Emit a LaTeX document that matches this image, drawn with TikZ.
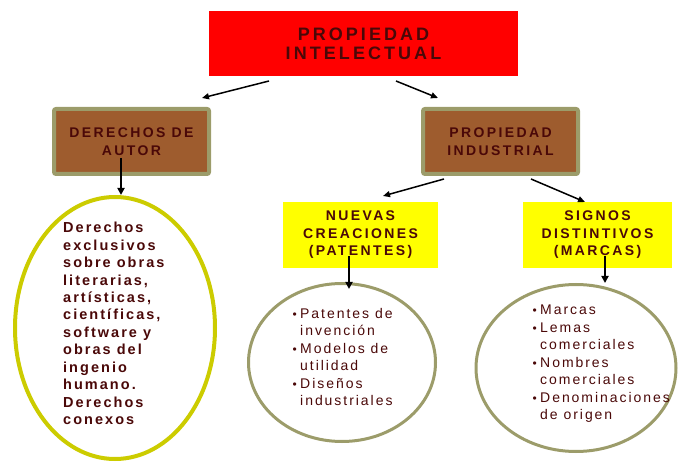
\documentclass[tikz,border=0pt]{standalone}
\usepackage{fontspec}
\setmainfont{Liberation Sans}
\newfontfamily\lsA[LetterSpace=17]{Liberation Sans}
\newfontfamily\lsB[LetterSpace=14]{Liberation Sans}
\usetikzlibrary{shapes.geometric,arrows.meta,calc}
\definecolor{txt}{HTML}{4A0808}
\definecolor{brownfill}{HTML}{9E5C2E}
\definecolor{olive}{HTML}{9C9C6A}
\definecolor{ellyel}{HTML}{CCCC00}
\definecolor{redbox}{HTML}{FF0000}
\definecolor{yel}{HTML}{FFFF00}
\tikzset{
  titlebox/.style={fill=redbox, minimum width=309, minimum height=65, inner sep=0,
    text=txt, font=\lsA\bfseries\fontsize{18}{19}\selectfont, align=center},
  brownbox/.style={fill=brownfill, draw=olive, line width=4, rounded corners=2,
    minimum width=155, minimum height=65, inner sep=0, text=txt,
    font=\lsA\bfseries\fontsize{14}{18}\selectfont, align=center},
  yelbox/.style={fill=yel, minimum height=66, inner sep=0, text=txt,
    font=\lsA\bfseries\fontsize{14}{17.5}\selectfont, align=center},
  oval/.style={ellipse, draw=olive, line width=3, inner sep=0},
  bigoval/.style={ellipse, draw=ellyel, line width=4, inner sep=0},
  bodytext/.style={anchor=north west, inner sep=0, text=txt, align=left,
    font=\lsB\fontsize{14}{17.5}\selectfont},
  boldtext/.style={anchor=north west, inner sep=0, text=txt, align=left,
    font=\lsB\bfseries\fontsize{14.5}{17.45}\selectfont},
  arr/.style={line width=1.5, -{Triangle[length=7pt,width=6pt]}},
  varr/.style={line width=2.5, -{Triangle[length=7pt,width=7pt]}},
}
\newcommand{\bul}{\llap{{\fontsize{12}{12}\selectfont\textbullet}\hspace{3.5pt}}}
\begin{document}
\begin{tikzpicture}[x=1pt,y=-1pt]
\useasboundingbox (0,0) rectangle (678,462);
% boxes
\node[titlebox] (pi) at (363.5,43.5) {PROPIEDAD\\INTELECTUAL};
\node[brownbox] (da) at (131.5,141.5) {DERECHOS DE\\AUTOR};
\node[brownbox] (pind) at (500.5,141.5) {PROPIEDAD\\INDUSTRIAL};
\node[yelbox, minimum width=155] (nc) at (360.5,235) {NUEVAS\\CREACIONES\\(PATENTES)};
\node[yelbox, minimum width=149] (sd) at (597.5,235) {SIGNOS\\DISTINTIVOS\\(MARCAS)};
% ellipses
\node[bigoval, minimum width=200, minimum height=262] (le) at (115,328) {};
\node[oval, minimum width=187, minimum height=158] (me) at (342,362.5) {};
\node[oval, minimum width=200, minimum height=167] (re) at (576,368) {};
% texts
\node[boldtext] (lt) at (63,222) {Derechos\\exclusivos\\sobre obras\\literarias,\\artísticas,\\científicas,\\software y\\obras del\\ingenio\\humano.\\Derechos\\conexos};
\node[bodytext] (mt) at (300,308) {\bul Patentes de\\invención\\\bul Modelos de\\utilidad\\\bul Diseños\\industriales};
\node[bodytext] (rt) at (540,305) {\bul Marcas\\\bul Lemas\\comerciales\\\bul Nombres\\comerciales\\\bul Denominaciones\\de origen};
% arrows
\coordinate (a1s) at (269,81); \coordinate (a1e) at (202,98);
\coordinate (a2s) at (396,81); \coordinate (a2e) at (438,98);
\coordinate (a3s) at (444,179); \coordinate (a3e) at (383,196);
\coordinate (a4s) at (531,179); \coordinate (a4e) at (585,202);
\draw[arr] (a1s) -- (a1e);
\draw[arr] (a2s) -- (a2e);
\draw[arr] (a3s) -- (a3e);
\draw[arr] (a4s) -- (a4e);
\coordinate (d1) at (121,158);
\coordinate (d2) at (349,256);
\coordinate (d3) at (605,256);
\draw[varr, line width=2] (d1) -- (d1 |- le.north);
\draw[varr, shorten >=-7pt] (d2) -- (d2 |- me.north);
\draw[varr] (d3) -- (d3 |- re.north);
\end{tikzpicture}
\end{document}
